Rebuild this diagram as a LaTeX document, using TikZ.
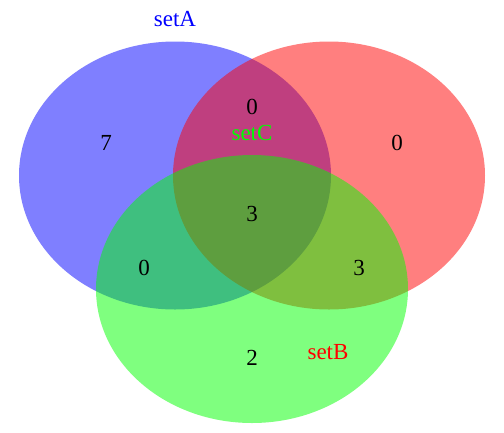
\documentclass[tikz,border=0pt]{standalone}
\usepackage{fontspec}
\setmainfont{Liberation Serif}
\usepackage{tikz}

\begin{document}
\begin{tikzpicture}[x=1pt, y=-1pt,
setfill/.style={opacity=0.5},
countnode/.style={font=\fontsize{23}{27}\selectfont, text=black, inner sep=0pt},
setlabel/.style={font=\fontsize{23}{27}\selectfont, inner sep=0pt},
]
\useasboundingbox (0,0) rectangle (504,432);

%Sets
\fill[blue, setfill]  (175,175.5) ellipse [x radius=156pt, y radius=134pt];
\fill[red, setfill]   (329,175.5) ellipse [x radius=156pt, y radius=134pt];
\fill[green, setfill] (252,289)   ellipse [x radius=156pt, y radius=134pt];

%Labels
\node[setlabel, text=blue]  (labelA) at (175,19)  {setA};
\node[setlabel, text=green] (labelC) at (252,133) {setC};
\node[setlabel, text=red]   (labelB) at (328,352) {setB};

%Counts
\node[countnode] (onlyA)   at (106,143) {7};
\node[countnode] (AandB)   at (252,107) {0};
\node[countnode] (onlyB)   at (397,143) {0};
\node[countnode] (ABC)     at (252,214) {3};
\node[countnode] (AandC)   at (144,268) {0};
\node[countnode] (BandC)   at (359,268) {3};
\node[countnode] (onlyC)   at (252,358) {2};

\end{tikzpicture}
\end{document}
